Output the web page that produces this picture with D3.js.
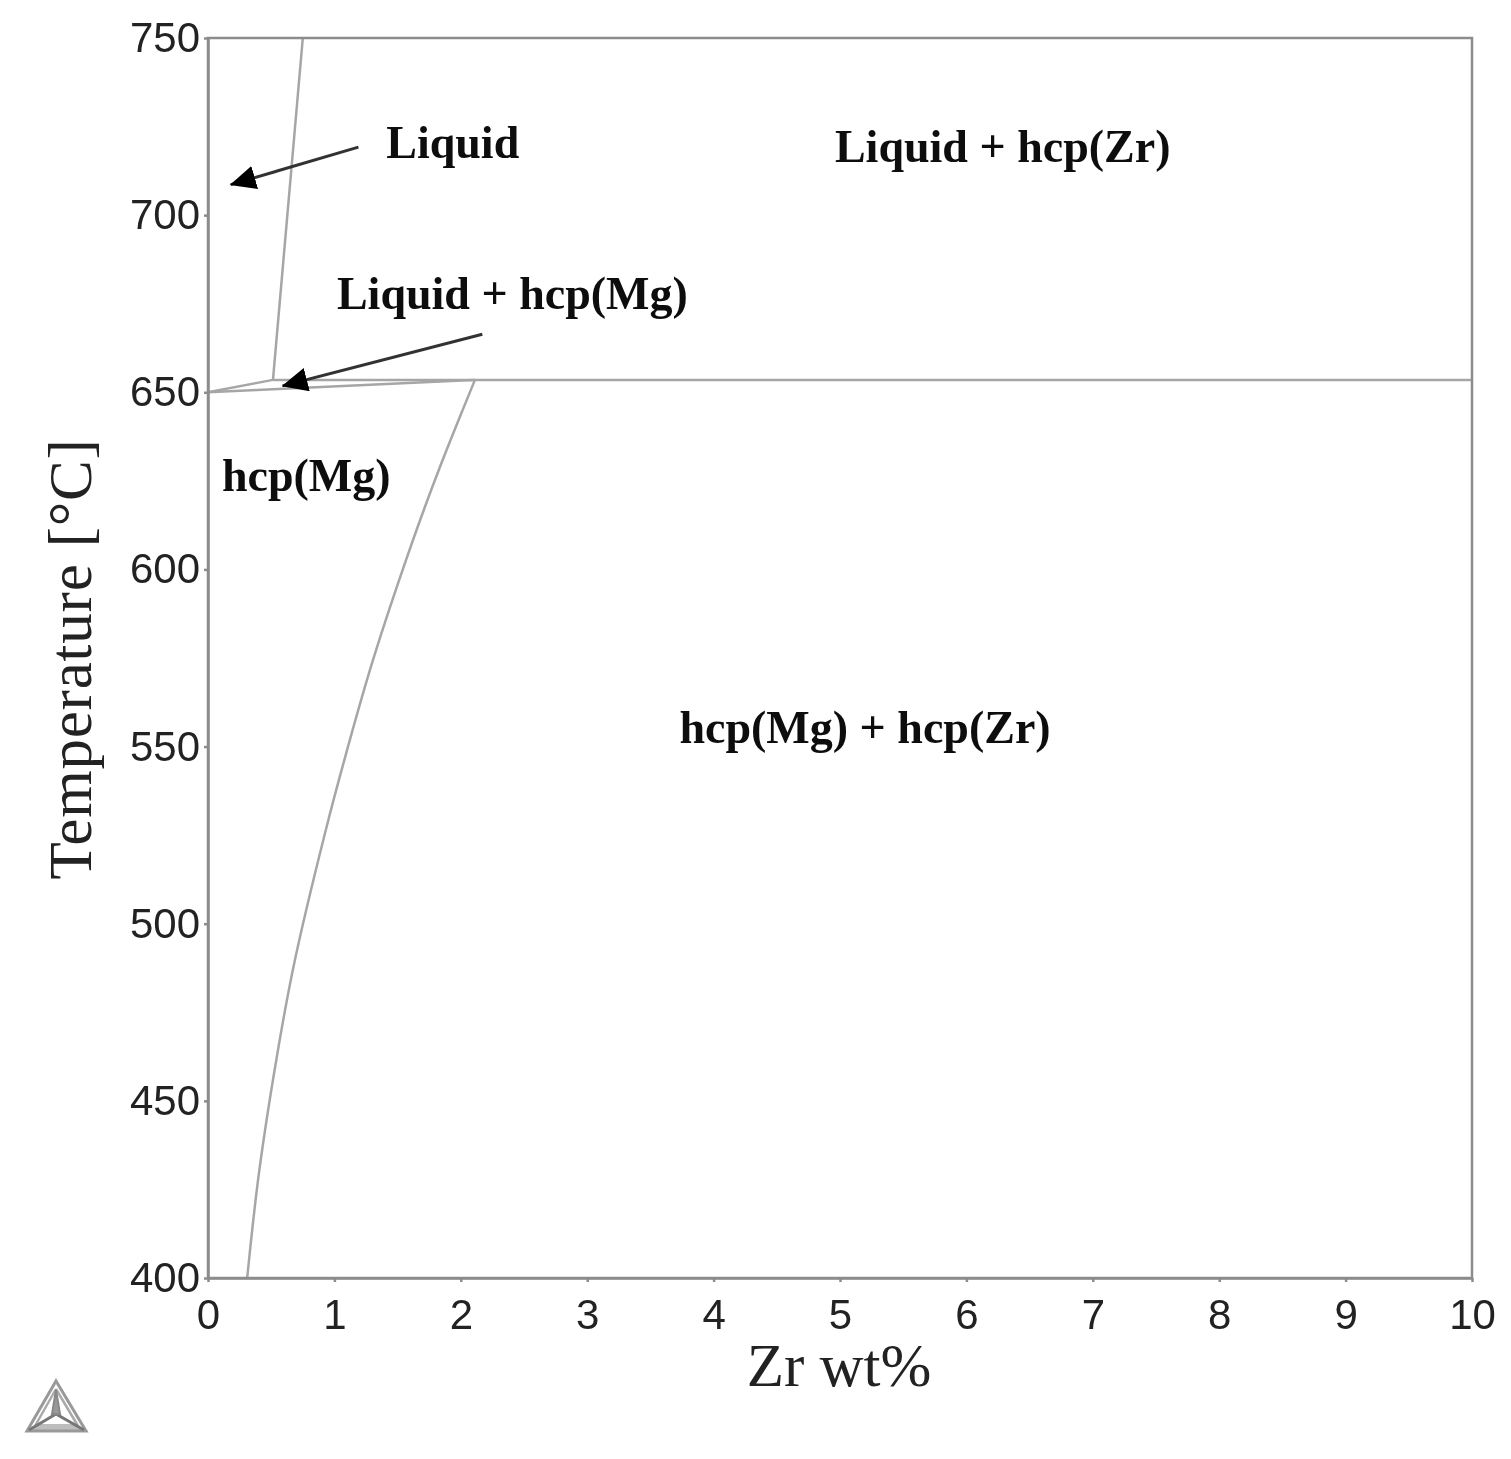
<!DOCTYPE html>
<html>
<head>
<meta charset="utf-8">
<script src="https://cdn.jsdelivr.net/npm/d3@7"></script>
<style>
  html, body { margin: 0; padding: 0; background: #fff; }
  svg { display: block; }
</style>
</head>
<body>
<script>
// values
let xTicks = [0, 1, 2, 3, 4, 5, 6, 7, 8, 9, 10];
let yTicks = [400, 450, 500, 550, 600, 650, 700, 750];

let liquidusZr = [0.514, 0.75];
let liquidusT = [653.5, 750];
let solvusZr = [0.31, 0.403, 0.554, 0.688, 0.926, 1.10, 1.305, 1.622, 1.835, 2.112];
let solvusT = [400, 429.6, 464.4, 489.8, 525.6, 549, 574.4, 608.3, 628.9, 653.5];
let upperZr = [0, 0.514];
let upperT = [650, 653.5];
let lowerZr = [0, 2.112];
let lowerT = [650, 653.5];
let peritecticZr = [0.514, 10];
let peritecticT = [653.5, 653.5];

let labelText = ["Liquid", "Liquid + hcp(Zr)", "Liquid + hcp(Mg)", "hcp(Mg)", "hcp(Mg) + hcp(Zr)"];
let labelZr = [1.41, 4.96, 1.02, 0.11, 3.73];
let labelT = [716, 715, 673.5, 622, 551];

let arrowFromZr = [1.19, 2.17];
let arrowFromT = [719.2, 666.4];
let arrowToZr = [0.18, 0.59];
let arrowToT = [708.6, 651.8];

let width = 1511;
let height = 1459;
let left = 208, right = 1472, top_ = 38, bottom = 1278;

let x = d3.scaleLinear().domain([0, 10]).range([left, right]);
let y = d3.scaleLinear().domain([400, 750]).range([bottom, top_]);

let lineGrey = "#8c8c8c";
let curveGrey = "#a6a6a6";
let serif = "'Liberation Serif', serif";
let sans = "'Liberation Sans', sans-serif";

let svg = d3.select("body").append("svg")
    .attr("width", width)
    .attr("height", height);

let defs = svg.append("defs");
defs.append("marker")
    .attr("id", "head")
    .attr("viewBox", "0 0 26 24")
    .attr("refX", 25)
    .attr("refY", 12)
    .attr("markerWidth", 26)
    .attr("markerHeight", 24)
    .attr("markerUnits", "userSpaceOnUse")
    .attr("orient", "auto")
    .append("path")
    .attr("d", "M0,0 L26,12 L0,24 Z")
    .attr("fill", "#000");

// the reference is a soft upscaled scan
defs.append("filter")
    .attr("id", "soft")
    .append("feGaussianBlur")
    .attr("stdDeviation", 0.7);

let chart = svg.append("g").attr("filter", "url(#soft)");

// curves
let line = d3.line()
    .x(function(d){ return x(d[0]); })
    .y(function(d){ return y(d[1]); });

let curves = [
    { zr: liquidusZr, t: liquidusT, curve: d3.curveLinear },
    { zr: solvusZr, t: solvusT, curve: d3.curveCatmullRom },
    { zr: upperZr, t: upperT, curve: d3.curveLinear },
    { zr: lowerZr, t: lowerT, curve: d3.curveLinear },
    { zr: peritecticZr, t: peritecticT, curve: d3.curveLinear }
];

chart.selectAll("path.curve")
    .data(curves)
    .enter()
    .append("path")
        .attr("class", "curve")
        .attr("fill", "none")
        .attr("stroke", curveGrey)
        .attr("stroke-width", 2.5)
        .attr("d", function(d){
            return line.curve(d.curve)(d3.zip(d.zr, d.t));
        });

// frame
chart.append("rect")
    .attr("x", left)
    .attr("y", top_)
    .attr("width", right - left)
    .attr("height", bottom - top_)
    .attr("fill", "none")
    .attr("stroke", lineGrey)
    .attr("stroke-width", 2.5);

// axes
let xAxis = chart.append("g")
    .attr("transform", "translate(0," + bottom + ")")
    .call(d3.axisBottom(x).tickValues(xTicks).tickSize(4).tickSizeOuter(0).tickPadding(19));
let yAxis = chart.append("g")
    .attr("transform", "translate(" + left + ",0)")
    .call(d3.axisLeft(y).tickValues(yTicks).tickSize(4).tickSizeOuter(0).tickPadding(4));

[xAxis, yAxis].forEach(function(a){
    a.select(".domain").attr("stroke", lineGrey).attr("stroke-width", 2.5);
    a.selectAll(".tick line").attr("stroke", lineGrey).attr("stroke-width", 2.5);
    a.selectAll(".tick text")
        .attr("font-family", sans)
        .attr("font-size", 42)
        .attr("fill", "#222");
});
xAxis.selectAll(".tick text").attr("dy", "0.32em").attr("y", 38);

// axis titles
chart.append("text")
    .attr("x", 839)
    .attr("y", 1386)
    .attr("text-anchor", "middle")
    .attr("font-family", serif)
    .attr("font-size", 61)
    .attr("fill", "#222")
    .text("Zr wt%");

chart.append("text")
    .attr("transform", "translate(91,659) rotate(-90)")
    .attr("text-anchor", "middle")
    .attr("font-family", serif)
    .attr("font-size", 61)
    .attr("letter-spacing", 0.8)
    .attr("fill", "#222")
    .text("Temperature [°C]");

// phase labels
chart.selectAll("text.phase")
    .data(labelText)
    .enter()
    .append("text")
        .attr("class", "phase")
        .attr("x", function(d, i){ return x(labelZr[i]); })
        .attr("y", function(d, i){ return y(labelT[i]); })
        .attr("font-family", serif)
        .attr("font-weight", "bold")
        .attr("font-size", 46)
        .attr("fill", "#111")
        .text(function(d){ return d; });

// arrows
chart.selectAll("line.arrow")
    .data(arrowFromZr)
    .enter()
    .append("line")
        .attr("class", "arrow")
        .attr("x1", function(d){ return x(d); })
        .attr("y1", function(d, i){ return y(arrowFromT[i]); })
        .attr("x2", function(d, i){ return x(arrowToZr[i]); })
        .attr("y2", function(d, i){ return y(arrowToT[i]); })
        .attr("stroke", "#333")
        .attr("stroke-width", 3)
        .attr("marker-end", "url(#head)");

// logo, bottom left
let logo = chart.append("g").attr("fill", "none").attr("stroke", "#8a8a8a").attr("stroke-width", 2);
logo.append("path").attr("d", "M36,1424 L77,1424 L86,1431 L27,1431 Z").attr("fill", "#bdbdbd").attr("stroke", "none");
logo.append("path").attr("d", "M56,1381 L27,1431 L86,1431 Z").attr("stroke", "#999").attr("stroke-width", 3);
logo.append("path").attr("d", "M56,1389 L35,1426 M56,1389 L78,1426").attr("stroke", "#aaa").attr("stroke-width", 2.5);
logo.append("path").attr("d", "M29,1430 L56,1414 L84,1430").attr("stroke", "#777").attr("stroke-width", 3);
logo.append("path").attr("d", "M52,1414 L56,1390 L60,1414 Z").attr("fill", "#999").attr("stroke", "#888");
</script>
</body>
</html>
